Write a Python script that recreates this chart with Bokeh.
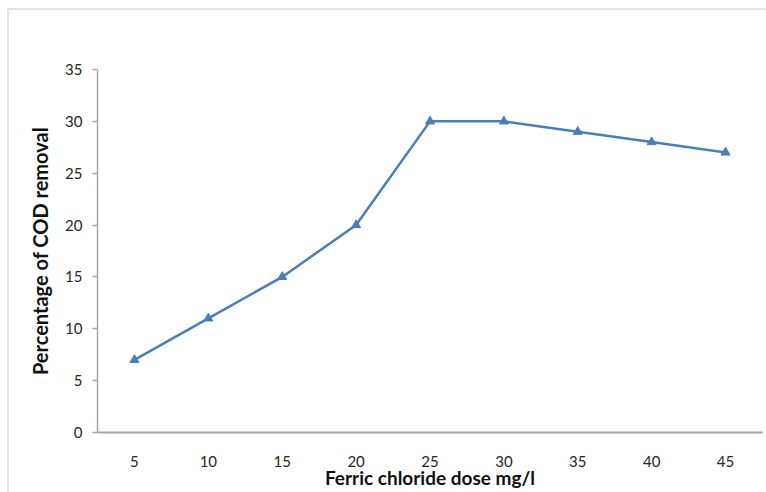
from bokeh.plotting import figure
from bokeh.models import FactorRange, Range1d, FixedTicker
from bokeh.embed import file_html
from bokeh.resources import INLINE

doses = ["5", "10", "15", "20", "25", "30", "35", "40", "45"]
cod_removal = [7, 11, 15, 20, 30, 30, 29, 28, 27]
y_ticks = [0, 5, 10, 15, 20, 25, 30, 35]

FONT = "Lato"
LINE_COLOR = "#4A7EBB"
AXIS_COLOR = "#A6A6A6"
TEXT_COLOR = "#262626"

p = figure(width=766, height=492, x_range=FactorRange(*doses), y_range=Range1d(0, 35),
           output_backend="svg", toolbar_location=None,
           min_border_left=97, min_border_right=4, min_border_top=69, min_border_bottom=60)
p.outline_line_color = None
p.xgrid.visible = False
p.ygrid.visible = False
p.background_fill_color = "white"
p.border_fill_alpha = 0
p.styles = {
    "background": "linear-gradient(#E3E3E3,#E3E3E3) 7px 8px / 759px 2px no-repeat, "
                  "linear-gradient(#E3E3E3,#E3E3E3) 7px 8px / 2px 484px no-repeat, white"
}

p.line(doses, cod_removal, line_color=LINE_COLOR, line_width=2.5)
p.scatter(doses, cod_removal, marker="triangle", size=9, fill_color=LINE_COLOR, line_color=LINE_COLOR)

# y axis
ya = p.yaxis[0]
ya.ticker = FixedTicker(ticks=y_ticks)
ya.minor_tick_line_color = None
ya.major_tick_in = 0
ya.major_tick_out = 5
ya.major_tick_line_color = AXIS_COLOR
ya.axis_line_color = AXIS_COLOR
ya.axis_line_width = 1.5
ya.major_tick_line_width = 1.5
ya.major_label_text_font = FONT
ya.major_label_text_font_size = "15px"
ya.major_label_text_color = TEXT_COLOR
ya.major_label_standoff = 10
ya.axis_label = "Percentage of COD removal"
ya.axis_label_text_font = FONT
ya.axis_label_text_font_style = "bold"
ya.axis_label_text_font_size = "20px"
ya.axis_label_text_color = "#111111"
ya.axis_label_standoff = 10

# x axis
xa = p.xaxis[0]
xa.major_tick_line_color = None
xa.minor_tick_line_color = None
xa.major_tick_in = 0
xa.major_tick_out = 0
xa.axis_line_color = AXIS_COLOR
xa.axis_line_width = 2
xa.major_label_text_font = FONT
xa.major_label_text_font_size = "15px"
xa.major_label_text_color = TEXT_COLOR
xa.major_label_standoff = 23
xa.axis_label = "Ferric chloride dose mg/l"
xa.axis_label_text_font = FONT
xa.axis_label_text_font_style = "bold"
xa.axis_label_text_font_size = "19px"
xa.axis_label_text_color = "#111111"
xa.axis_label_standoff = -4

open("out.html", "w").write(file_html(p, INLINE))
